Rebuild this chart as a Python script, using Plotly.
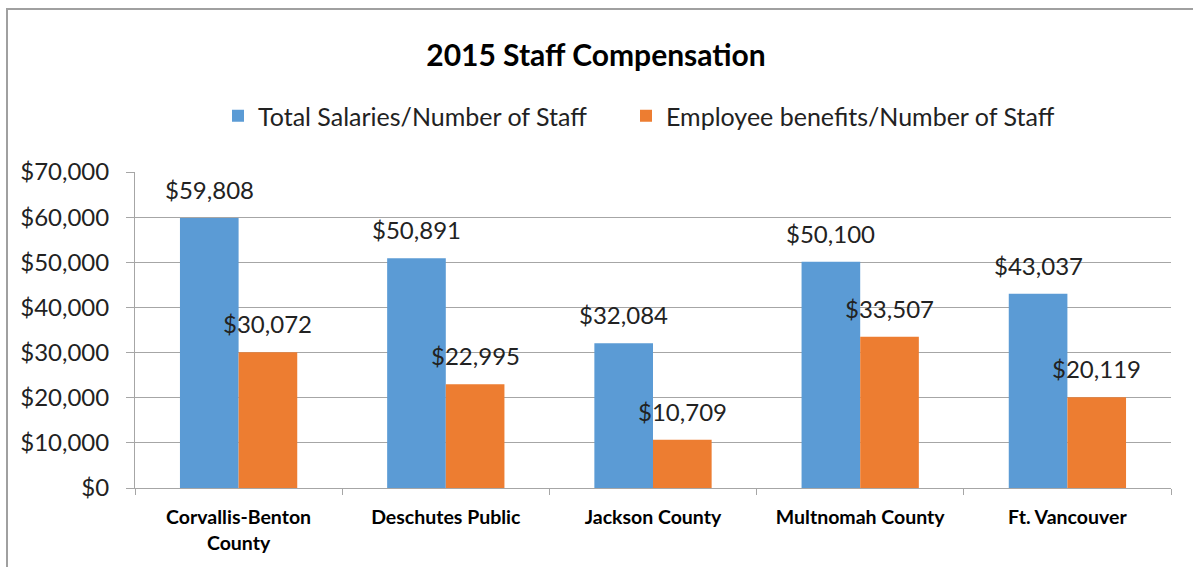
import plotly.graph_objects as go

categories = ["Corvallis-Benton<br>County", "Deschutes Public", "Jackson County",
              "Multnomah County", "Ft. Vancouver"]
salaries = [59808, 50891, 32084, 50100, 43037]
benefits = [30072, 22995, 10709, 33507, 20119]
series_names = ["Total Salaries/Number of Staff", "Employee benefits/Number of Staff"]
colors = ["#5B9BD5", "#ED7D31"]

FONT = "Lato"
W, H = 1193, 567
ml, mr, mt, mb = 135, 22, 172, 79
plot_w = W - ml - mr
ph = H - mt - mb
bargap = 0.434
cat_px = plot_w / len(categories)
half_bar = (1 - bargap) * cat_px / 4

fig = go.Figure()
for name, vals, col, lg in zip(series_names, [salaries, benefits], colors, ["legend", "legend2"]):
    fig.add_trace(go.Bar(x=categories, y=vals, name=name, marker_color=col,
                         marker_line_width=0, legend=lg))

annotations = []
for vals, sh in [(salaries, -half_bar), (benefits, half_bar)]:
    for c, v in zip(categories, vals):
        annotations.append(dict(x=c, y=v, text=f"${v:,}", showarrow=False,
                                xanchor="center", yanchor="bottom", xshift=sh, yshift=12,
                                font=dict(family=FONT, size=24, color="#222222")))

legend_common = dict(orientation="h", xanchor="left", xref="paper",
                     y=(H - mb - 116) / ph, yanchor="middle",
                     font=dict(family=FONT, size=25, color="#222222"),
                     itemclick=False, bgcolor="rgba(0,0,0,0)")

fig.update_layout(
    width=W, height=H,
    margin=dict(l=ml, r=mr, t=mt, b=mb),
    paper_bgcolor="white", plot_bgcolor="white",
    barmode="group", bargap=bargap, bargroupgap=0,
    title=dict(text="<b>2015 Staff Compensation</b>", xref="container", x=596 / W,
               xanchor="center", y=1 - 55 / H, yanchor="middle",
               font=dict(family=FONT, size=30, color="black")),
    legend=dict(x=(218 - ml) / plot_w, **legend_common),
    legend2=dict(x=(626 - ml) / plot_w, **legend_common),
    annotations=annotations,
    showlegend=True,
)

fig.update_yaxes(range=[0, 70000], dtick=10000, tickprefix="$", tickformat=",",
                 showgrid=True, gridcolor="#A6A6A6", gridwidth=1,
                 showline=True, linecolor="#A6A6A6", ticks="outside", ticklen=8,
                 tickcolor="#A6A6A6", ticklabelstandoff=12, zeroline=False,
                 tickfont=dict(family=FONT, size=24, color="#222222"))
fig.update_xaxes(showline=True, linecolor="#A6A6A6", ticks="outside", ticklen=6,
                 tickcolor="#A6A6A6", tickson="boundaries", showgrid=False,
                 tickfont=dict(family=FONT, size=19.5, color="black"),
                 tickangle=0, ticklabelstandoff=12)
fig.update_xaxes(ticktext=[f"<b>{c}</b>" for c in categories], tickvals=categories)

fig.add_shape(type="rect", xref="paper", yref="paper",
              x0=(7 - ml) / plot_w, x1=(W + 20 - ml) / plot_w,
              y0=-(H + 20 - (H - mb)) / ph, y1=(H - mb - 9) / ph,
              line=dict(color="#A0A0A0", width=2), fillcolor="rgba(0,0,0,0)", layer="below")

fig.write_html("out.html", config={"displayModeBar": False},
               post_script="document.body.style.margin='0';")
